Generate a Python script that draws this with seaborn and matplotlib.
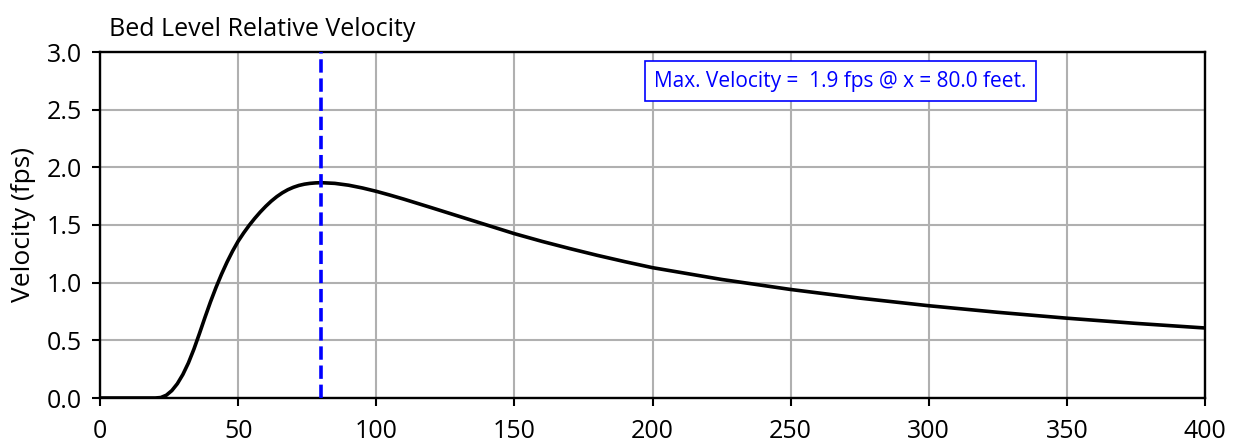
import matplotlib
matplotlib.use("Agg")
import matplotlib.pyplot as plt
import seaborn as sns
import pandas as pd

# Data
distance_ft = [0, 5, 10, 15, 20, 22, 24, 26, 28, 30, 32, 34, 36, 38, 40, 42, 44, 46, 48, 50,
               52, 54, 56, 58, 60, 62, 64, 66, 68, 70, 72, 74, 76, 78, 80, 85, 90,
               95, 100, 105, 110, 115, 120, 130, 140, 150, 160, 170, 180, 190, 200, 225, 250,
               275, 300, 325, 350, 375, 400]
velocity_fps = [0, 0, 0, 0, 0, 0.004, 0.024, 0.064, 0.124, 0.204, 0.304, 0.424, 0.559, 0.699,
                0.834, 0.959, 1.074, 1.179, 1.274, 1.359, 1.431, 1.497, 1.557, 1.612, 1.662,
                1.707, 1.746, 1.779, 1.806, 1.827, 1.843, 1.854, 1.861, 1.865, 1.867, 1.861,
                1.845, 1.821, 1.792, 1.759, 1.724, 1.687, 1.65, 1.575, 1.50, 1.425, 1.358,
                1.296, 1.237, 1.182, 1.13, 1.028, 0.941, 0.866, 0.80, 0.743, 0.692, 0.647, 0.607]
max_x = 80.0
max_v = 1.9
title_text = "Bed Level Relative Velocity"
ylabel_text = "Velocity (fps)"
x_ticks = [0, 50, 100, 150, 200, 250, 300, 350, 400]
y_ticks = [0.0, 0.5, 1.0, 1.5, 2.0, 2.5, 3.0]

sns.set_style("white")
plt.rcParams['font.family'] = ['Open Sans', 'DejaVu Sans']
plt.rcParams['text.color'] = 'black'
plt.rcParams['axes.labelcolor'] = 'black'

df = pd.DataFrame({"x": distance_ft, "v": velocity_fps})

fig = plt.figure(figsize=(12.41, 4.45), dpi=100)
ax = fig.add_axes([100 / 1241, 47 / 445, 1105 / 1241, 346 / 445])

sns.lineplot(data=df, x="x", y="v", ax=ax, color="black", linewidth=2.6, zorder=3)
ax.axvline(max_x, color="blue", linestyle="--", linewidth=2.6, zorder=4)

ax.set_xlim(0, 400)
ax.set_ylim(0, 3.0)
ax.set_xticks(x_ticks)
ax.set_yticks(y_ticks)
ax.set_yticklabels([f"{t:.1f}" for t in y_ticks])
ax.grid(True, color="#b0b0b0", linewidth=1.5)
ax.set_axisbelow(True)
ax.tick_params(axis="both", direction="out", length=6, width=1.5, labelsize=18,
               colors="black", left=True, bottom=True)
ax.tick_params(axis="x", pad=9)
ax.tick_params(axis="y", pad=7)
for s in ax.spines.values():
    s.set_color("black")
    s.set_linewidth(1.7)

ax.set_xlabel("")
ax.set_ylabel(ylabel_text, fontsize=19, labelpad=8, color="black")
ax.text(0.008, 1.03, title_text, transform=ax.transAxes, fontsize=18,
        ha="left", va="bottom", color="black")

ax.text(0.67, 0.916, f"Max. Velocity =  {max_v:.1f} fps @ x = {max_x:.1f} feet.",
        transform=ax.transAxes, fontsize=15, color="blue", ha="center", va="center",
        bbox=dict(boxstyle="square,pad=0.45", facecolor="white", edgecolor="blue", linewidth=1.2),
        zorder=5)

fig.savefig("out.png", dpi=100)
